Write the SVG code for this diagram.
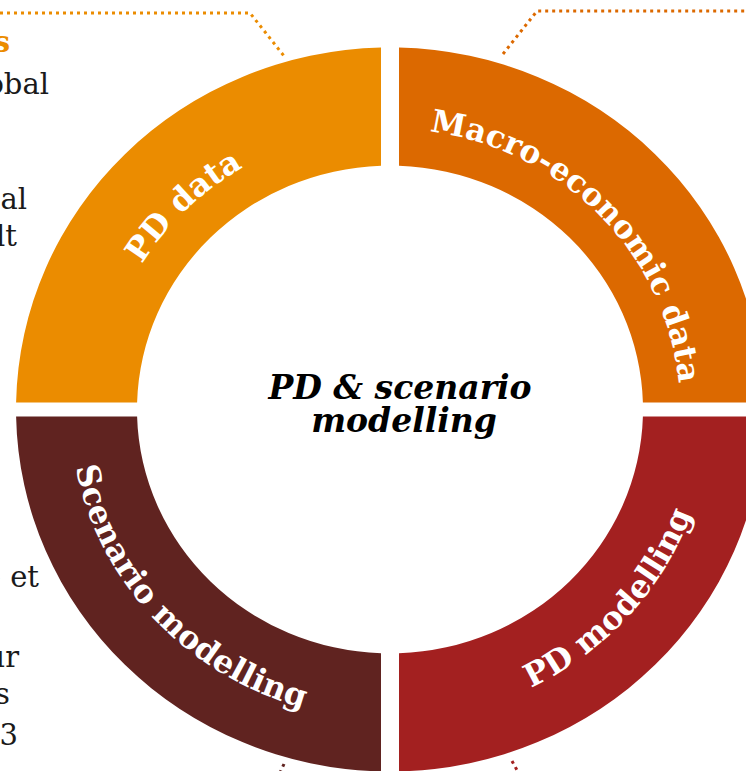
<svg xmlns="http://www.w3.org/2000/svg" width="746" height="771" viewBox="0 0 746 771">
  <style>
    .lbl { font-family: "DejaVu Serif", "Liberation Serif", serif; font-weight: bold; font-size: 32px; fill: #ffffff; }
    .ctr { font-family: "DejaVu Serif", "Liberation Serif", serif; font-weight: bold; font-style: italic; font-size: 33px; fill: #000000; }
    .side { font-family: "DejaVu Serif", "Liberation Serif", serif; font-size: 29px; fill: #1a1a1a; }
    .dot { fill: none; stroke-width: 3; stroke-dasharray: 3 4; }
  </style>
  <defs>
    <path id="arcTL" d="M 100 409.5 A 290 280.7 0 0 1 390 128.8"/>
    <path id="arcTR" d="M 390 128.8 A 290 280.7 0 0 1 680 409.5"/>
    <path id="arcBL" d="M 70 409.5 A 320 310 0 0 0 390 719.5"/>
    <path id="arcBR" d="M 390 719.5 A 320 310 0 0 0 710 409.5"/>
  </defs>
  <rect width="746" height="771" fill="#ffffff"/>

  <g id="connectors">
    <polyline class="dot" stroke="#EB8C00" points="0,13 250,13 284,56"/>
    <polyline class="dot" stroke="#DC6900" points="503,54 537,11 746,11"/>
    <polyline class="dot" stroke="#602320" points="284,764 279,775"/>
    <polyline class="dot" stroke="#A32020" points="512,761 518,772"/>
  </g>

  <g id="side-text">
    <text class="side" x="10" y="52" text-anchor="end" style="fill:#EB8C00;font-weight:bold">s</text>
    <text class="side" x="49" y="94" text-anchor="end">obal</text>
    <text class="side" x="27" y="209" text-anchor="end">ual</text>
    <text class="side" x="17" y="246" text-anchor="end">lt</text>
    <text class="side" x="39" y="587" text-anchor="end">e et</text>
    <text class="side" x="19" y="667" text-anchor="end">ur</text>
    <text class="side" x="10" y="704" text-anchor="end">s</text>
    <text class="side" x="18" y="745" text-anchor="end">/3</text>
  </g>

  <g id="pd-data">
    <path fill="#EB8C00" d="M 381 47.6 L 381 165.7 A 253 244 0 0 0 137.1 402.5 L 16.1 402.5 A 374 362 0 0 1 381 47.6 Z"/>
    <text class="lbl"><textPath href="#arcTL" startOffset="50%" text-anchor="middle">PD data</textPath></text>
  </g>

  <g id="macro-economic-data">
    <path fill="#DC6900" d="M 399 47.6 A 374 362 0 0 1 763.9 402.5 L 642.9 402.5 A 253 244 0 0 0 399 165.7 Z"/>
    <text class="lbl" style="font-size:31.5px"><textPath href="#arcTR" startOffset="51.5%" text-anchor="middle">Macro-economic data</textPath></text>
  </g>

  <g id="pd-modelling">
    <path fill="#A32020" d="M 763.9 416.5 A 374 362 0 0 1 399 771.4 L 399 653.3 A 253 244 0 0 0 642.9 416.5 Z"/>
    <text class="lbl"><textPath href="#arcBR" startOffset="54%" text-anchor="middle">PD modelling</textPath></text>
  </g>

  <g id="scenario-modelling">
    <path fill="#602320" d="M 381 771.4 A 374 362 0 0 1 16.1 416.5 L 137.1 416.5 A 253 244 0 0 0 381 653.3 Z"/>
    <text class="lbl"><textPath href="#arcBL" startOffset="47%" text-anchor="middle">Scenario modelling</textPath></text>
  </g>

  <g id="center">
    <text class="ctr" x="400" y="399" text-anchor="middle">PD &amp; scenario</text>
    <text class="ctr" x="404" y="432" text-anchor="middle">modelling</text>
  </g>
</svg>
